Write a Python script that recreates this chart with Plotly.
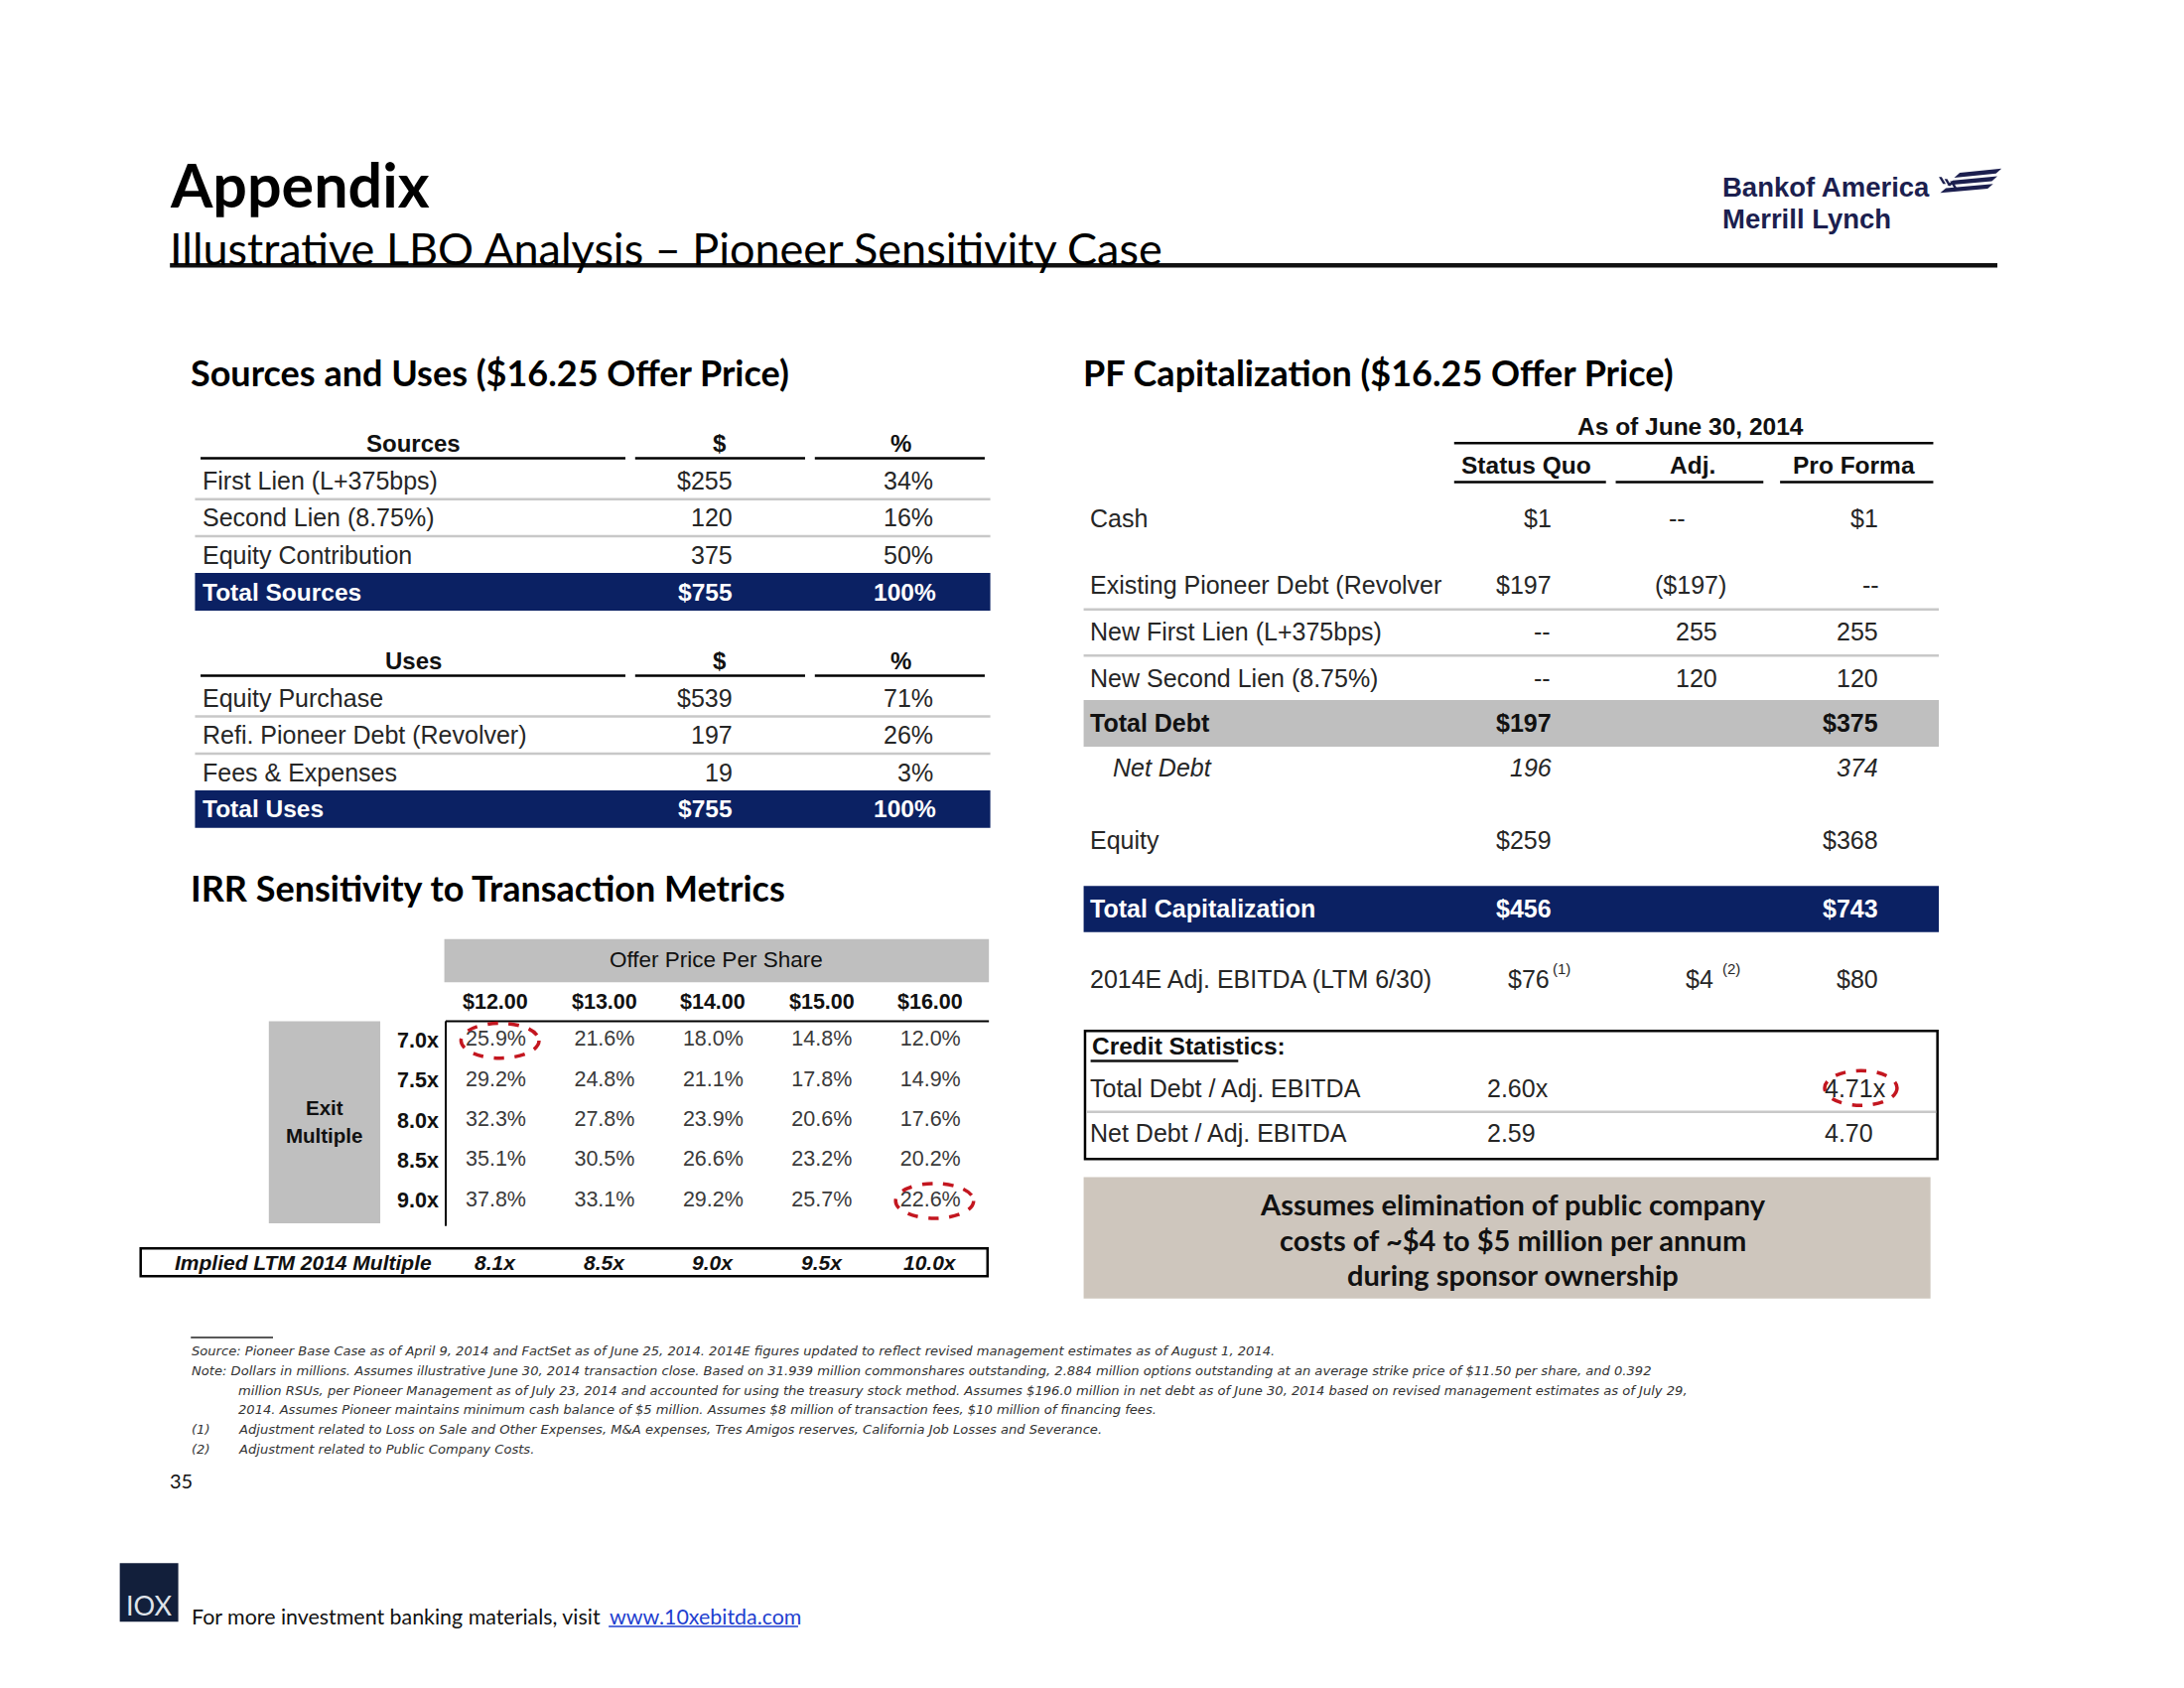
import plotly.graph_objects as go

# ======================= DATA =======================
title_text = "Appendix"
subtitle_text = "Illustrative LBO Analysis – Pioneer Sensitivity Case"
brand_text = ["Bankof America", "Merrill Lynch"]

su_title = "Sources and Uses ($16.25 Offer Price)"
source_header = ["Sources", "$", "%"]
source_labels = ["First Lien (L+375bps)", "Second Lien (8.75%)", "Equity Contribution"]
source_amounts = [255, 120, 375]
source_pcts = [34, 16, 50]
source_total = ["Total Sources", 755, 100]

use_header = ["Uses", "$", "%"]
use_labels = ["Equity Purchase", "Refi. Pioneer Debt (Revolver)", "Fees & Expenses"]
use_amounts = [539, 197, 19]
use_pcts = [71, 26, 3]
use_total = ["Total Uses", 755, 100]

irr_title = "IRR Sensitivity to Transaction Metrics"
irr_col_title = "Offer Price Per Share"
irr_row_title = ["Exit", "Multiple"]
offer_prices = [12.00, 13.00, 14.00, 15.00, 16.00]
exit_multiples = [7.0, 7.5, 8.0, 8.5, 9.0]
irr_pct = [
    [25.9, 21.6, 18.0, 14.8, 12.0],
    [29.2, 24.8, 21.1, 17.8, 14.9],
    [32.3, 27.8, 23.9, 20.6, 17.6],
    [35.1, 30.5, 26.6, 23.2, 20.2],
    [37.8, 33.1, 29.2, 25.7, 22.6],
]
implied_label = "Implied LTM 2014 Multiple"
implied_multiples = [8.1, 8.5, 9.0, 9.5, 10.0]
irr_circled = [(0, 0), (4, 4)]

pf_title = "PF Capitalization ($16.25 Offer Price)"
pf_date = "As of June 30, 2014"
pf_columns = ["Status Quo", "Adj.", "Pro Forma"]
pf_labels = ["Cash", "Existing Pioneer Debt (Revolver", "New First Lien (L+375bps)",
             "New Second Lien (8.75%)", "Total Debt", "Net Debt", "Equity",
             "Total Capitalization", "2014E Adj. EBITDA (LTM 6/30)"]
pf_status_quo = ["$1", "$197", "--", "--", "$197", "196", "$259", "$456", "$76"]
pf_adj = ["--", "($197)", "255", "120", "", "", "", "", "$4"]
pf_pro_forma = ["$1", "--", "255", "120", "$375", "374", "$368", "$743", "$80"]
pf_refs_status_quo = ["", "", "", "", "", "", "", "", "(1)"]
pf_refs_adj = ["", "", "", "", "", "", "", "", "(2)"]

credit_title = "Credit Statistics:"
credit_labels = ["Total Debt / Adj. EBITDA", "Net Debt / Adj. EBITDA"]
credit_status_quo = ["2.60x", "2.59"]
credit_pro_forma = ["4.71x", "4.70"]
credit_circled = [0]

callout_lines = ["Assumes elimination of public company",
                 "costs of ~$4 to $5 million per annum",
                 "during sponsor ownership"]

footnote_lines = [
    ("", "Source: Pioneer Base Case as of April 9, 2014 and FactSet as of June 25, 2014. 2014E figures updated to reflect revised management estimates as of August 1, 2014."),
    ("", "Note: Dollars in millions. Assumes illustrative June 30, 2014 transaction close. Based on 31.939 million commonshares outstanding, 2.884 million options outstanding at an average strike price of $11.50 per share, and 0.392"),
    ("indent", "million RSUs, per Pioneer Management as of July 23, 2014 and accounted for using the treasury stock method. Assumes $196.0 million in net debt as of June 30, 2014 based on revised management estimates as of July 29,"),
    ("indent", "2014. Assumes Pioneer maintains minimum cash balance of $5 million. Assumes $8 million of transaction fees, $10 million of financing fees."),
    ("(1)", "Adjustment related to Loss on Sale and Other Expenses, M&A expenses, Tres Amigos reserves, California Job Losses and Severance."),
    ("(2)", "Adjustment related to Public Company Costs."),
]
page_number = "35"
footer_text = "For more investment banking materials, visit"
footer_link = "www.10xebitda.com"
footer_logo = "IOX"

# ======================= LAYOUT / STYLE =======================
W, H = 2200, 1700
S = W / 1568.0          # design unit -> pixel
M = 8                   # default page body margin
PW, PH = W - 2 * M, H - 2 * M

NAVY = "#0b2163"
GRAY = "#bfbfbf"
SEP = "#c8c8c8"
TXT = "#262626"
RED = "#c3161f"
TAN = "#cec6bd"
BRAND = "#1c1f4f"
TF = "Liberation Sans, Arial, sans-serif"
HF = "Lato, Calibri, sans-serif"
FN = "DejaVu Sans, Verdana, sans-serif"

annotations = []
shapes = []


def text(x, y, s, size, anchor="left", color=TXT, family=TF, bold=False, italic=False):
    if bold:
        s = f"<b>{s}</b>"
    if italic:
        s = f"<i>{s}</i>"
    annotations.append(dict(x=x, y=y, xref="x", yref="y", text=s, showarrow=False,
                            xanchor=anchor, yanchor="middle", borderpad=0,
                            font=dict(size=size, color=color, family=family)))


def rect(x0, y0, x1, y1, fill="rgba(0,0,0,0)", lc=None, lw=0):
    shapes.append(dict(type="rect", xref="x", yref="y", x0=x0, y0=y0, x1=x1, y1=y1,
                       fillcolor=fill, line=dict(color=lc or fill, width=lw), layer="below"))


def line(x0, y0, x1, y1, color="#000000", width=2, dash="solid"):
    shapes.append(dict(type="line", xref="x", yref="y", x0=x0, y0=y0, x1=x1, y1=y1,
                       line=dict(color=color, width=width, dash=dash)))


def poly(pts, color):
    p = "M" + " L".join(f"{x},{y}" for x, y in pts) + " Z"
    shapes.append(dict(type="path", xref="x", yref="y", path=p, fillcolor=color,
                       line=dict(width=0)))


def ellipse(cx, cy, rx, ry):
    shapes.append(dict(type="circle", xref="x", yref="y", x0=cx - rx, x1=cx + rx,
                       y0=cy - ry, y1=cy + ry, fillcolor="rgba(0,0,0,0)",
                       line=dict(color=RED, width=3.5, dash="dash")))


# ---------- header ----------
text(121, 132.5, title_text, 61, family=HF, color="#000000", bold=True)
text(121, 178, subtitle_text, 45, family=HF, color="#000000")
line(122, 190.5, 1434, 190.5, "#111111", 4.5)
text(1236, 134, brand_text[0], 27.5, color=BRAND, bold=True)
text(1236, 157, brand_text[1], 27.5, color=BRAND, bold=True)
# flag mark
for k in range(3):
    y = 124 + 5.5 * k
    x0 = 1403 - 5 * k
    x1 = 1437 - 3 * k
    poly([(x0, y + 3.5), (x0 + 4, y), (x1, y - 3), (x1 - 4, y + 0.5)], BRAND)
for k in range(3):
    cx = 1392 + 4 * k
    poly([(cx, 127 + 1.5 * k), (cx + 2, 127 + 1.5 * k), (cx + 5, 132 + 1.5 * k), (cx + 3, 132 + 1.5 * k)], BRAND)

# ---------- Sources & Uses ----------
text(136, 267, su_title, 36, family=HF, color="#000000", bold=True)
SU_LABEL_X, SU_AMT_R, SU_PCT_R = 145, 527, 671
SU_HDR_C = [297, 517, 647]
SU_HDR_SEG = [(144, 449), (456, 578), (585, 707)]
SU_L, SU_R = 140, 711
STEP = 26.6
FS = 25


def su_block(header, labels, amounts, pcts, total, hdr_y):
    for c, h in enumerate(header):
        text(SU_HDR_C[c], hdr_y, h, 24, anchor="center", color="#111111", bold=True)
        line(SU_HDR_SEG[c][0], hdr_y + 11, SU_HDR_SEG[c][1], hdr_y + 11, "#000000", 2.5)
    y0 = hdr_y + 27
    for i, lab in enumerate(labels):
        y = y0 + i * STEP
        text(SU_LABEL_X, y, lab, FS)
        text(SU_AMT_R, y, (f"${amounts[i]}" if i == 0 else f"{amounts[i]}"), FS, anchor="right")
        text(SU_PCT_R, y, f"{pcts[i]}%", FS, anchor="right")
        if i < len(labels) - 1:
            line(SU_L, y + STEP / 2, SU_R, y + STEP / 2, SEP, 2.5)
    ty = y0 + len(labels) * STEP
    rect(SU_L, ty - 13.5, SU_R, ty + 13.5, NAVY)
    text(SU_LABEL_X, ty, total[0], 24.5, color="white", bold=True)
    text(SU_AMT_R, ty, f"${total[1]}", 24.5, anchor="right", color="white", bold=True)
    text(SU_PCT_R + 2, ty, f"{total[2]}%", 24.5, anchor="right", color="white", bold=True)


su_block(source_header, source_labels, source_amounts, source_pcts, source_total, 318)
su_block(use_header, use_labels, use_amounts, use_pcts, use_total, 474)

# ---------- IRR sensitivity ----------
text(136, 637, irr_title, 36, family=HF, color="#000000", bold=True)
COL_X0, COL_DX = 356, 78
ROW_Y0, ROW_DY = 747, 28.75
col_x = [COL_X0 + j * COL_DX for j in range(len(offer_prices))]
row_y = [ROW_Y0 + i * ROW_DY for i in range(len(exit_multiples))]
rect(319, 674, 710, 705, GRAY)
text(514, 689, irr_col_title, 22.5, anchor="center", color="#111111")
for j, p in enumerate(offer_prices):
    text(col_x[j], 719, f"${p:.2f}", 21.5, anchor="center", color="#111111", bold=True)
line(320, 733, 710, 733, "#000000", 2)
line(320, 733, 320, 880, "#000000", 2)
rect(193, 733, 273, 878, GRAY)
text(233, 795, irr_row_title[0], 20.5, anchor="center", color="#111111", bold=True)
text(233, 815, irr_row_title[1], 20.5, anchor="center", color="#111111", bold=True)
for i, m in enumerate(exit_multiples):
    text(316, row_y[i], f"{m:.1f}x", 21.5, anchor="right", color="#111111", bold=True)

gx, gy, gt = [], [], []
for i in range(len(exit_multiples)):
    for j in range(len(offer_prices)):
        gx.append(col_x[j])
        gy.append(row_y[i])
        gt.append(f"{irr_pct[i][j]:.1f}%")
irr_trace = go.Scatter(x=gx, y=gy, text=gt, mode="text", textposition="middle center",
                       textfont=dict(family=TF, size=21.5, color="#3a3a3a"), hoverinfo="skip",
                       showlegend=False)
for (i, j) in irr_circled:
    ellipse(col_x[j] + 3, row_y[i], 28, 12.5)

rect(101, 896, 709, 916, "rgba(0,0,0,0)", "#000000", 2.5)
text(311, 906, implied_label, 21, anchor="right", color="#111111", bold=True, italic=True)
for j, v in enumerate(implied_multiples):
    text(col_x[j], 906, f"{v:.1f}x", 21, anchor="center", color="#111111", bold=True, italic=True)

# ---------- PF capitalization ----------
text(777, 267, pf_title, 36, family=HF, color="#000000", bold=True)
text(1214, 306, pf_date, 24.5, anchor="center", color="#111111", bold=True)
line(1044, 318, 1388, 318, "#000000", 2.5)
PF_HDR_C = [1096, 1215, 1331]
PF_HDR_SEG = [(1044, 1153), (1160, 1266), (1278, 1388)]
for c, h in enumerate(pf_columns):
    text(PF_HDR_C[c], 334, h, 24.5, anchor="center", color="#111111", bold=True)
    line(PF_HDR_SEG[c][0], 346, PF_HDR_SEG[c][1], 346, "#000000", 2.5)

PF_L, PF_R = 778, 1392
PF_LABEL_X = 782
PF_ROW_Y = [372, 420, 453, 487, 519, 551, 603, 652, 703]
PF_KIND = ["n", "n", "n", "n", "gray", "ital", "n", "navy", "n"]
PF_SEPS = [1, 2]
PF_VAL_R = [1115, 1234, 1349]
PF_DASH_R = [1114, 1211, 1350]
PF_REF_X = [1114, 1236]
PF_REF_GAP = [1, 5]

for i, y in enumerate(PF_ROW_Y):
    kind = PF_KIND[i]
    col = "white" if kind == "navy" else TXT
    bold = kind in ("gray", "navy")
    ital = kind == "ital"
    if kind == "gray":
        rect(PF_L, y - 16.5, PF_R, y + 17, GRAY)
        col = "#111111"
    if kind == "navy":
        rect(PF_L, y - 16, PF_R, y + 17, NAVY)
    text(PF_LABEL_X + (16 if ital else 0), y, pf_labels[i], FS, color=col, bold=bold, italic=ital)
    vals = [pf_status_quo[i], pf_adj[i], pf_pro_forma[i]]
    refs = [pf_refs_status_quo[i], pf_refs_adj[i], ""]
    for c, v in enumerate(vals):
        if not v:
            continue
        if v == "--":
            xr = PF_DASH_R[c]
        elif v.startswith("("):
            xr = PF_VAL_R[c] + 6
        elif refs[c]:
            xr = PF_REF_X[c] - PF_REF_GAP[c]
        else:
            xr = PF_VAL_R[c]
        text(xr, y, v, FS, anchor="right", color=col, bold=bold, italic=ital)
        if refs[c]:
            text(PF_REF_X[c], y - 8, refs[c], 15, color=col)
    if i in PF_SEPS:
        line(PF_L, y + 17.5, PF_R, y + 17.5, SEP, 2.5)

# credit statistics box
rect(779, 740, 1391, 832, "rgba(0,0,0,0)", "#000000", 2.5)
text(783, 751, credit_title, 24.5, color="#111111", bold=True)
line(783, 761.5, 889, 761.5, "#111111", 2.5)
CS_Y = [781, 813]
for i, lab in enumerate(credit_labels):
    text(PF_LABEL_X, CS_Y[i], lab, FS)
    text(1067, CS_Y[i], credit_status_quo[i], FS)
    text(1309, CS_Y[i], credit_pro_forma[i], FS)
line(780, 798, 1390, 798, SEP, 2.5)
for i in credit_circled:
    ellipse(1336, CS_Y[i], 26, 12.5)

# callout
rect(778, 845, 1386, 932, TAN)
for k, ln in enumerate(callout_lines):
    text(1086, 864 + k * 25.5, ln, 29, anchor="center", family=HF, color="#111111", bold=True)

# ---------- footnotes ----------
line(137, 960, 196, 960, "#222222", 1.5)
FN_Y0, FN_DY = 970, 14
FNS = 13.1
for k, (tag, ln) in enumerate(footnote_lines):
    y = FN_Y0 + k * FN_DY
    if tag == "indent":
        text(170, y, ln, FNS, family=FN, color="#333333", italic=True)
    elif tag:
        text(137, y, tag, FNS, family=FN, color="#333333", italic=True)
        text(170, y, ln, FNS, family=FN, color="#333333", italic=True)
    else:
        text(137, y, ln, FNS, family=FN, color="#333333", italic=True)
text(121, 1063, page_number, 20, family=HF, color="#111111")

# ---------- footer ----------
rect(86, 1122, 128, 1164, "#121f3b")
text(107, 1152, footer_logo, 27, anchor="center", family=HF, color="#dfe3ea")
text(137, 1160, footer_text, 21.4, family=HF, color="#111111")
text(437, 1160, footer_link, 21.4, family=HF, color="#1f3fcf")
line(437, 1167.5, 573, 1167.5, "#1f3fcf", 1.5)

# ======================= FIGURE =======================
fig = go.Figure(data=[irr_trace])
fig.update_layout(
    width=PW, height=PH,
    margin=dict(l=0, r=0, t=0, b=0, pad=0),
    paper_bgcolor="white", plot_bgcolor="white",
    xaxis=dict(range=[M / S, (PW + M) / S], visible=False, fixedrange=True),
    yaxis=dict(range=[(PH + M) / S, M / S], visible=False, fixedrange=True),
    shapes=shapes, annotations=annotations,
    showlegend=False, hovermode=False, dragmode=False,
)
fig.write_html("out.html", config={"displayModeBar": False})
